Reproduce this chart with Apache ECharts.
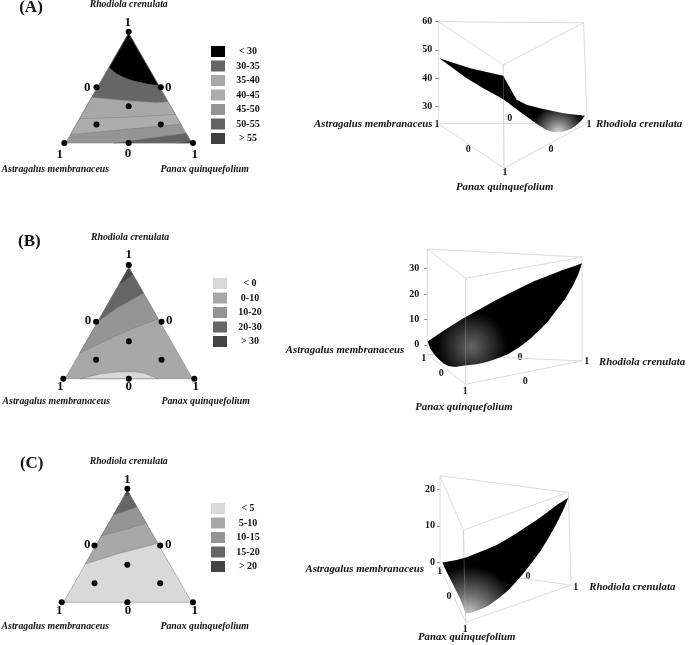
<!DOCTYPE html>
<html>
<head>
<meta charset="utf-8">
<script src="https://cdn.jsdelivr.net/npm/echarts@6/dist/echarts.min.js"></script>
<style>
  html, body { margin: 0; padding: 0; background: #fff; }
  #main { width: 689px; height: 645px; }
</style>
</head>
<body>
<div id="main"></div>
<script>
  // names of the three components
  var nameTop = 'Rhodiola crenulata';
  var nameLeft = 'Astragalus membranaceus';
  var nameRight = 'Panax quinquefolium';

  // design points, ternary plot (x along base, y height, both 0..1)
  var designPoints = [[0, 0], [0.5, 0], [1, 0], [0.25, 0.5], [0.75, 0.5], [0.5, 0.33], [0.25, 0.167], [0.75, 0.167], [0.5, 1]];

  // panel A contour zones, lowest layer first
  var zonesA = ['45-50', '40-45', '35-40', '30-35', '< 30', '50-55', '> 55'];
  var legendA = ['< 30', '30-35', '35-40', '40-45', '45-50', '50-55', '> 55'];
  var zoneA4550 = [[0.01, 0], [0.99, 0], [0.5, 0.985]];
  var zoneA4045 = [[0.047, 0.075], [0.479, 0.123], [0.906, 0.168], [0.5, 0.985]];
  var zoneA3540 = [[0.119, 0.219], [0.484, 0.231], [0.862, 0.257], [0.5, 0.985]];
  var zoneA3035 = [[0.214, 0.41], [0.355, 0.395], [0.536, 0.377], [0.718, 0.365], [0.805, 0.371], [0.5, 0.985]];
  var zoneA30 = [[0.347, 0.677], [0.407, 0.62], [0.47, 0.585], [0.536, 0.557], [0.653, 0.527], [0.734, 0.515], [0.5, 0.985]];
  var zoneA5055 = [[0.381, 0], [0.947, 0.087], [0.99, 0]];
  var zoneA55 = [[0.873, 0], [0.98, 0.02], [0.99, 0]];

  // panel B contour zones
  var zonesB = ['0-10', '< 0', '10-20', '20-30', '> 30'];
  var legendB = ['< 0', '0-10', '10-20', '20-30', '> 30'];
  var zoneB010 = [[0.013, 0], [0.987, 0], [0.5, 0.977]];
  var zoneB0 = [[0.127, 0], [0.28, 0.041], [0.39, 0.058], [0.483, 0.062], [0.56, 0.06], [0.611, 0.05], [0.67, 0.025], [0.725, 0]];
  var zoneB1020 = [[0.124, 0.223], [0.28, 0.311], [0.534, 0.443], [0.725, 0.525], [0.5, 0.977]];
  var zoneB2030 = [[0.263, 0.501], [0.407, 0.619], [0.613, 0.751], [0.5, 0.977]];
  var zoneB30 = [[0.421, 0.818], [0.532, 0.912], [0.5, 0.977]];

  // panel C contour zones
  var zonesC = ['< 5', '5-10', '10-15', '15-20', '> 20'];
  var legendC = ['< 5', '5-10', '10-15', '15-20', '> 20'];
  var zoneC5 = [[0.013, 0], [0.99, 0], [0.5, 0.982]];
  var zoneC510 = [[0.18, 0.337], [0.419, 0.425], [0.733, 0.519], [0.5, 0.982]];
  var zoneC1015 = [[0.303, 0.584], [0.645, 0.695], [0.5, 0.982]];
  var zoneC1520 = [[0.394, 0.768], [0.574, 0.839], [0.5, 0.982]];
  var zoneC20 = [[0.474, 0.93], [0.522, 0.944], [0.5, 0.982]];

  // response surfaces, [projected x 0..1, response]
  var surfaceA = [[0.007, 47], [0.213, 43.5], [0.436, 40.8], [0.526, 32.3], [0.593, 30.5], [0.682, 29.3], [0.761, 28.4], [0.839, 27.5], [0.984, 26.6],
    [0.962, 25], [0.928, 23.4], [0.895, 22.1], [0.861, 21.4], [0.828, 20.9], [0.794, 20.8], [0.761, 21], [0.727, 21.6], [0.682, 23], [0.638, 24.6],
    [0.548, 28.1], [0.436, 32.5], [0.302, 36.4], [0.19, 39.9]];
  var surfaceB = [[0.002, 1.3], [0.114, 5.9], [0.233, 10.5], [0.341, 14.1], [0.448, 17.7], [0.567, 21.4], [0.685, 24.9], [0.782, 27.2], [0.879, 29.5], [0.944, 30.8], [1, 32.1],
    [0.976, 27.8], [0.944, 23.6], [0.894, 18.3], [0.836, 13.7], [0.782, 9.4], [0.728, 5.9], [0.664, 2.3], [0.599, -0.7], [0.524, -3.6], [0.448, -5.5], [0.384, -6.7],
    [0.319, -7.6], [0.244, -8.1], [0.179, -8.7], [0.136, -8.3], [0.103, -7.2], [0.071, -5.5], [0.039, -3.3], [0.017, -1.1]];
  var surfaceC = [[0.018, 0], [0.127, 0.64], [0.204, 1.4], [0.28, 2.47], [0.356, 3.6], [0.433, 4.75], [0.509, 6.3], [0.585, 7.95], [0.662, 9.8], [0.738, 11.6], [0.814, 13.6], [0.891, 15.7], [0.98, 17.7],
    [0.941, 14.3], [0.891, 10.7], [0.827, 6.6], [0.763, 2.9], [0.7, -0.1], [0.636, -3], [0.573, -5.6], [0.509, -8], [0.445, -9.9], [0.382, -11.5], [0.331, -12.5], [0.28, -13.2], [0.229, -13.8], [0.196, -14],
    [0.153, -9.9], [0.089, -5.3], [0.051, -2.6]];

  // prism corners: top left, top right, top back, bottom left, bottom right, bottom front
  var boxA = [[0, 60], [0.975, 59.6], [0.436, 44.7], [0, 23.8], [1, 24], [0.441, 8.05]];
  var boxB = [[0, 37.7], [1, 34.5], [0.248, 26.2], [0, -3.7], [1, -6.3], [0.248, -15.5]];
  var boxC = [[0, 23.7], [0.98, 19.1], [0.178, 8.86], [0, -1.2], [1, -6.2], [0.196, -16.4]];
  var ticksA = [30, 40, 50, 60];
  var ticksB = [0, 10, 20, 30];
  var ticksC = [0, 10, 20];

  var zoneColors = {
    '< 30': '#000000', '30-35': '#666666', '35-40': '#a8a8a8', '40-45': '#adadad', '45-50': '#959595', '50-55': '#636363', '> 55': '#404040',
    '< 0': '#d9d9d9', '0-10': '#a8a8a8', '10-20': '#959595', '20-30': '#666666', '> 30': '#444444',
    '< 5': '#d9d9d9', '5-10': '#a8a8a8', '10-15': '#959595', '15-20': '#666666', '> 20': '#444444'
  };
  var serif = '"Liberation Serif", "Times New Roman", serif';
  var edgeOrder = [[0, 1], [0, 2], [2, 1], [0, 3], [1, 4], [2, 5], [3, 4], [3, 5], [5, 4]];

  var grids = [], xAxes = [], yAxes = [], series = [], legends = [], texts = [];

  function addTernary(rect, zoneNames, zoneData, legendNames, legendPos) {
    var idx = grids.length;
    grids.push(rect);
    xAxes.push({ gridIndex: idx, type: 'value', min: 0, max: 1, show: false });
    yAxes.push({ gridIndex: idx, type: 'value', min: 0, max: 1, show: false });
    zoneNames.forEach(function (name, i) {
      series.push({
        type: 'custom',
        name: name,
        xAxisIndex: idx,
        yAxisIndex: idx,
        z: 2 + i,
        silent: true,
        itemStyle: { color: zoneColors[name] },
        data: zoneData[i],
        encode: { x: 0, y: 1 },
        renderItem: function (params, api) {
          if (params.dataIndex !== 0) return;
          return {
            type: 'polygon',
            shape: { points: zoneData[i].map(function (p) { return api.coord(p); }) },
            style: { fill: api.visual('color'), stroke: '#7a7a7a', lineWidth: 0.5 }
          };
        }
      });
    });
    series.push({
      type: 'scatter',
      xAxisIndex: idx,
      yAxisIndex: idx,
      z: 20,
      silent: true,
      symbolSize: 6,
      itemStyle: { color: '#000', opacity: 1 },
      data: designPoints
    });
    legends.push({
      data: legendNames,
      orient: 'vertical',
      left: legendPos[0],
      top: legendPos[1],
      padding: 0,
      itemWidth: 14,
      itemHeight: 11,
      itemGap: 3.5,
      icon: 'rect',
      selectedMode: false,
      formatter: '{t|{name}}',
      textStyle: {
        rich: { t: { width: 36, align: 'center', fontFamily: serif, fontWeight: 'bold', fontSize: 10, lineHeight: 11, color: '#111' } }
      }
    });
  }

  function addPrism(rect, range, box, surface, ticks, tickMargin, fill) {
    var idx = grids.length;
    grids.push(rect);
    xAxes.push({ gridIndex: idx, type: 'value', min: 0, max: 1, show: false });
    yAxes.push({
      gridIndex: idx,
      type: 'value',
      min: range[0],
      max: range[1],
      axisLine: { show: false },
      splitLine: { show: false },
      axisTick: { show: true, length: 3, customValues: ticks, lineStyle: { color: '#666', width: 0.8 } },
      axisLabel: { show: true, margin: tickMargin, customValues: ticks, fontFamily: serif, fontWeight: 'bold', fontSize: 10, color: '#111' }
    });
    var edges = edgeOrder.map(function (e) { return box[e[0]].concat(box[e[1]]); });
    function edgeItem(color, width) {
      return function (params, api) {
        var a = api.coord([api.value(0), api.value(1)]);
        var b = api.coord([api.value(2), api.value(3)]);
        return { type: 'line', shape: { x1: a[0], y1: a[1], x2: b[0], y2: b[1] }, style: { stroke: color, lineWidth: width } };
      };
    }
    series.push({
      type: 'custom', xAxisIndex: idx, yAxisIndex: idx, z: 2, silent: true,
      data: edges, encode: { x: [0, 2], y: [1, 3] },
      renderItem: edgeItem('#dcdcdc', 1)
    });
    series.push({
      type: 'custom', xAxisIndex: idx, yAxisIndex: idx, z: 3, silent: true,
      data: surface, encode: { x: 0, y: 1 },
      renderItem: function (params, api) {
        if (params.dataIndex !== 0) return;
        return {
          type: 'polygon',
          shape: { points: surface.map(function (p) { return api.coord(p); }) },
          style: { fill: fill }
        };
      }
    });
    // front edge shows through the surface
    series.push({
      type: 'custom', xAxisIndex: idx, yAxisIndex: idx, z: 4, silent: true,
      data: [edges[5]], encode: { x: [0, 2], y: [1, 3] },
      renderItem: edgeItem('rgba(200,200,200,0.3)', 1)
    });
  }

  function shine(x, y, r, color) {
    return {
      type: 'radial', x: x, y: y, r: r,
      colorStops: [{ offset: 0, color: color }, { offset: 0.5, color: '#666' }, { offset: 1, color: '#000' }]
    };
  }

  addTernary({ left: 64.3, top: 31.7, width: 128.7, height: 111.3 },
    zonesA, [zoneA4550, zoneA4045, zoneA3540, zoneA3035, zoneA30, zoneA5055, zoneA55], legendA, [211, 46]);
  addTernary({ left: 63.3, top: 265, width: 131, height: 113.7 },
    zonesB, [zoneB010, zoneB0, zoneB1020, zoneB2030, zoneB30], legendB, [213, 278]);
  addTernary({ left: 61.7, top: 488.7, width: 131.3, height: 113.6 },
    zonesC, [zoneC5, zoneC510, zoneC1015, zoneC1520, zoneC20], legendC, [211, 503]);

  addPrism({ left: 438.3, top: 21.7, width: 149, height: 146.6 }, [8, 60], boxA, surfaceA, ticksA, 6, shine(0.817, 1.01, 0.38, '#dcdcdc'));
  addPrism({ left: 427.3, top: 249, width: 154.7, height: 135.3 }, [-15.5, 37.7], boxB, surfaceB, ticksB, 8, {
    type: 'radial', x: 0.285, y: 0.8, r: 0.34,
    colorStops: [{ offset: 0, color: '#666' }, { offset: 0.5, color: '#333' }, { offset: 1, color: '#000' }]
  });
  addPrism({ left: 440, top: 475.7, width: 131, height: 146.7 }, [-16.4, 23.7], boxC, surfaceC, ticksC, 5, shine(0.206, 1.04, 0.45, '#d8d8d8'));

  function txt(str, x, y, size, italic) {
    texts.push({
      type: 'text',
      x: x,
      y: y,
      silent: true,
      style: {
        text: str,
        fontFamily: serif,
        fontWeight: 'bold',
        fontStyle: italic ? 'italic' : 'normal',
        fontSize: size,
        fill: '#111',
        textAlign: 'center',
        textVerticalAlign: 'middle'
      }
    });
  }

  // left column labels
  txt('(A)', 31, 7.7, 17); txt(nameTop, 128.7, 4.7, 9.8, true); txt('1', 127.7, 22.3, 13);
  txt('0', 87.3, 88, 13); txt('0', 168.3, 88, 13);
  txt('1', 59.7, 154.3, 13); txt('0', 128, 153.7, 13); txt('1', 194.7, 154.3, 13);
  txt(nameLeft, 55.3, 169, 9.8, true); txt(nameRight, 204.7, 169, 9.8, true);

  txt('(B)', 29.3, 241.7, 17); txt(nameTop, 130, 237, 9.8, true); txt('1', 128.7, 255, 13);
  txt('0', 88, 320.7, 13); txt('0', 169.3, 320.7, 13);
  txt('1', 60.3, 387, 13); txt('0', 128.7, 387, 13); txt('1', 195.7, 387, 13);
  txt(nameLeft, 56.3, 401.7, 9.8, true); txt(nameRight, 205.7, 401.7, 9.8, true);

  txt('(C)', 31.7, 463.3, 17); txt(nameTop, 128.7, 461.7, 9.8, true); txt('1', 127.3, 479.3, 13);
  txt('0', 87.3, 545, 13); txt('0', 168.3, 545, 13);
  txt('1', 59.3, 610.7, 13); txt('0', 128, 610.7, 13); txt('1', 194.7, 610.7, 13);
  txt(nameLeft, 55.3, 626, 9.8, true); txt(nameRight, 204.7, 626, 9.8, true);

  // right column labels
  txt(nameLeft, 373.3, 124.3, 10.8, true); txt('1', 437, 124, 10); txt('0', 468.3, 149, 10);
  txt('0', 551, 149, 10); txt('0', 509.7, 118.7, 10); txt('1', 589, 124, 10);
  txt(nameTop, 639, 124, 10.8, true); txt('1', 505, 172.7, 10); txt(nameRight, 504.7, 187.7, 10.8, true);

  txt(nameLeft, 345, 350.7, 10.8, true); txt('1', 423.7, 358.3, 10); txt('0', 441.3, 373, 10);
  txt('0', 520, 357, 10); txt('1', 586.7, 361.7, 10); txt(nameTop, 642, 362, 10.8, true);
  txt('0', 525.3, 381, 10); txt('1', 465.3, 391.3, 10); txt(nameRight, 464, 407.3, 10.8, true);

  txt(nameLeft, 364.7, 569, 10.8, true); txt('1', 439.7, 571.7, 10); txt('0', 449, 596, 10);
  txt('0', 528, 576, 10); txt('1', 575.7, 587, 10); txt(nameTop, 632.3, 587, 10.8, true);
  txt('1', 465.3, 629, 10); txt(nameRight, 466.7, 637.7, 10.8, true);

  var myChart = echarts.init(document.getElementById('main'));
  myChart.setOption({
    animation: false,
    backgroundColor: '#fff',
    grid: grids,
    xAxis: xAxes,
    yAxis: yAxes,
    legend: legends,
    series: series,
    graphic: texts
  });
</script>
</body>
</html>
